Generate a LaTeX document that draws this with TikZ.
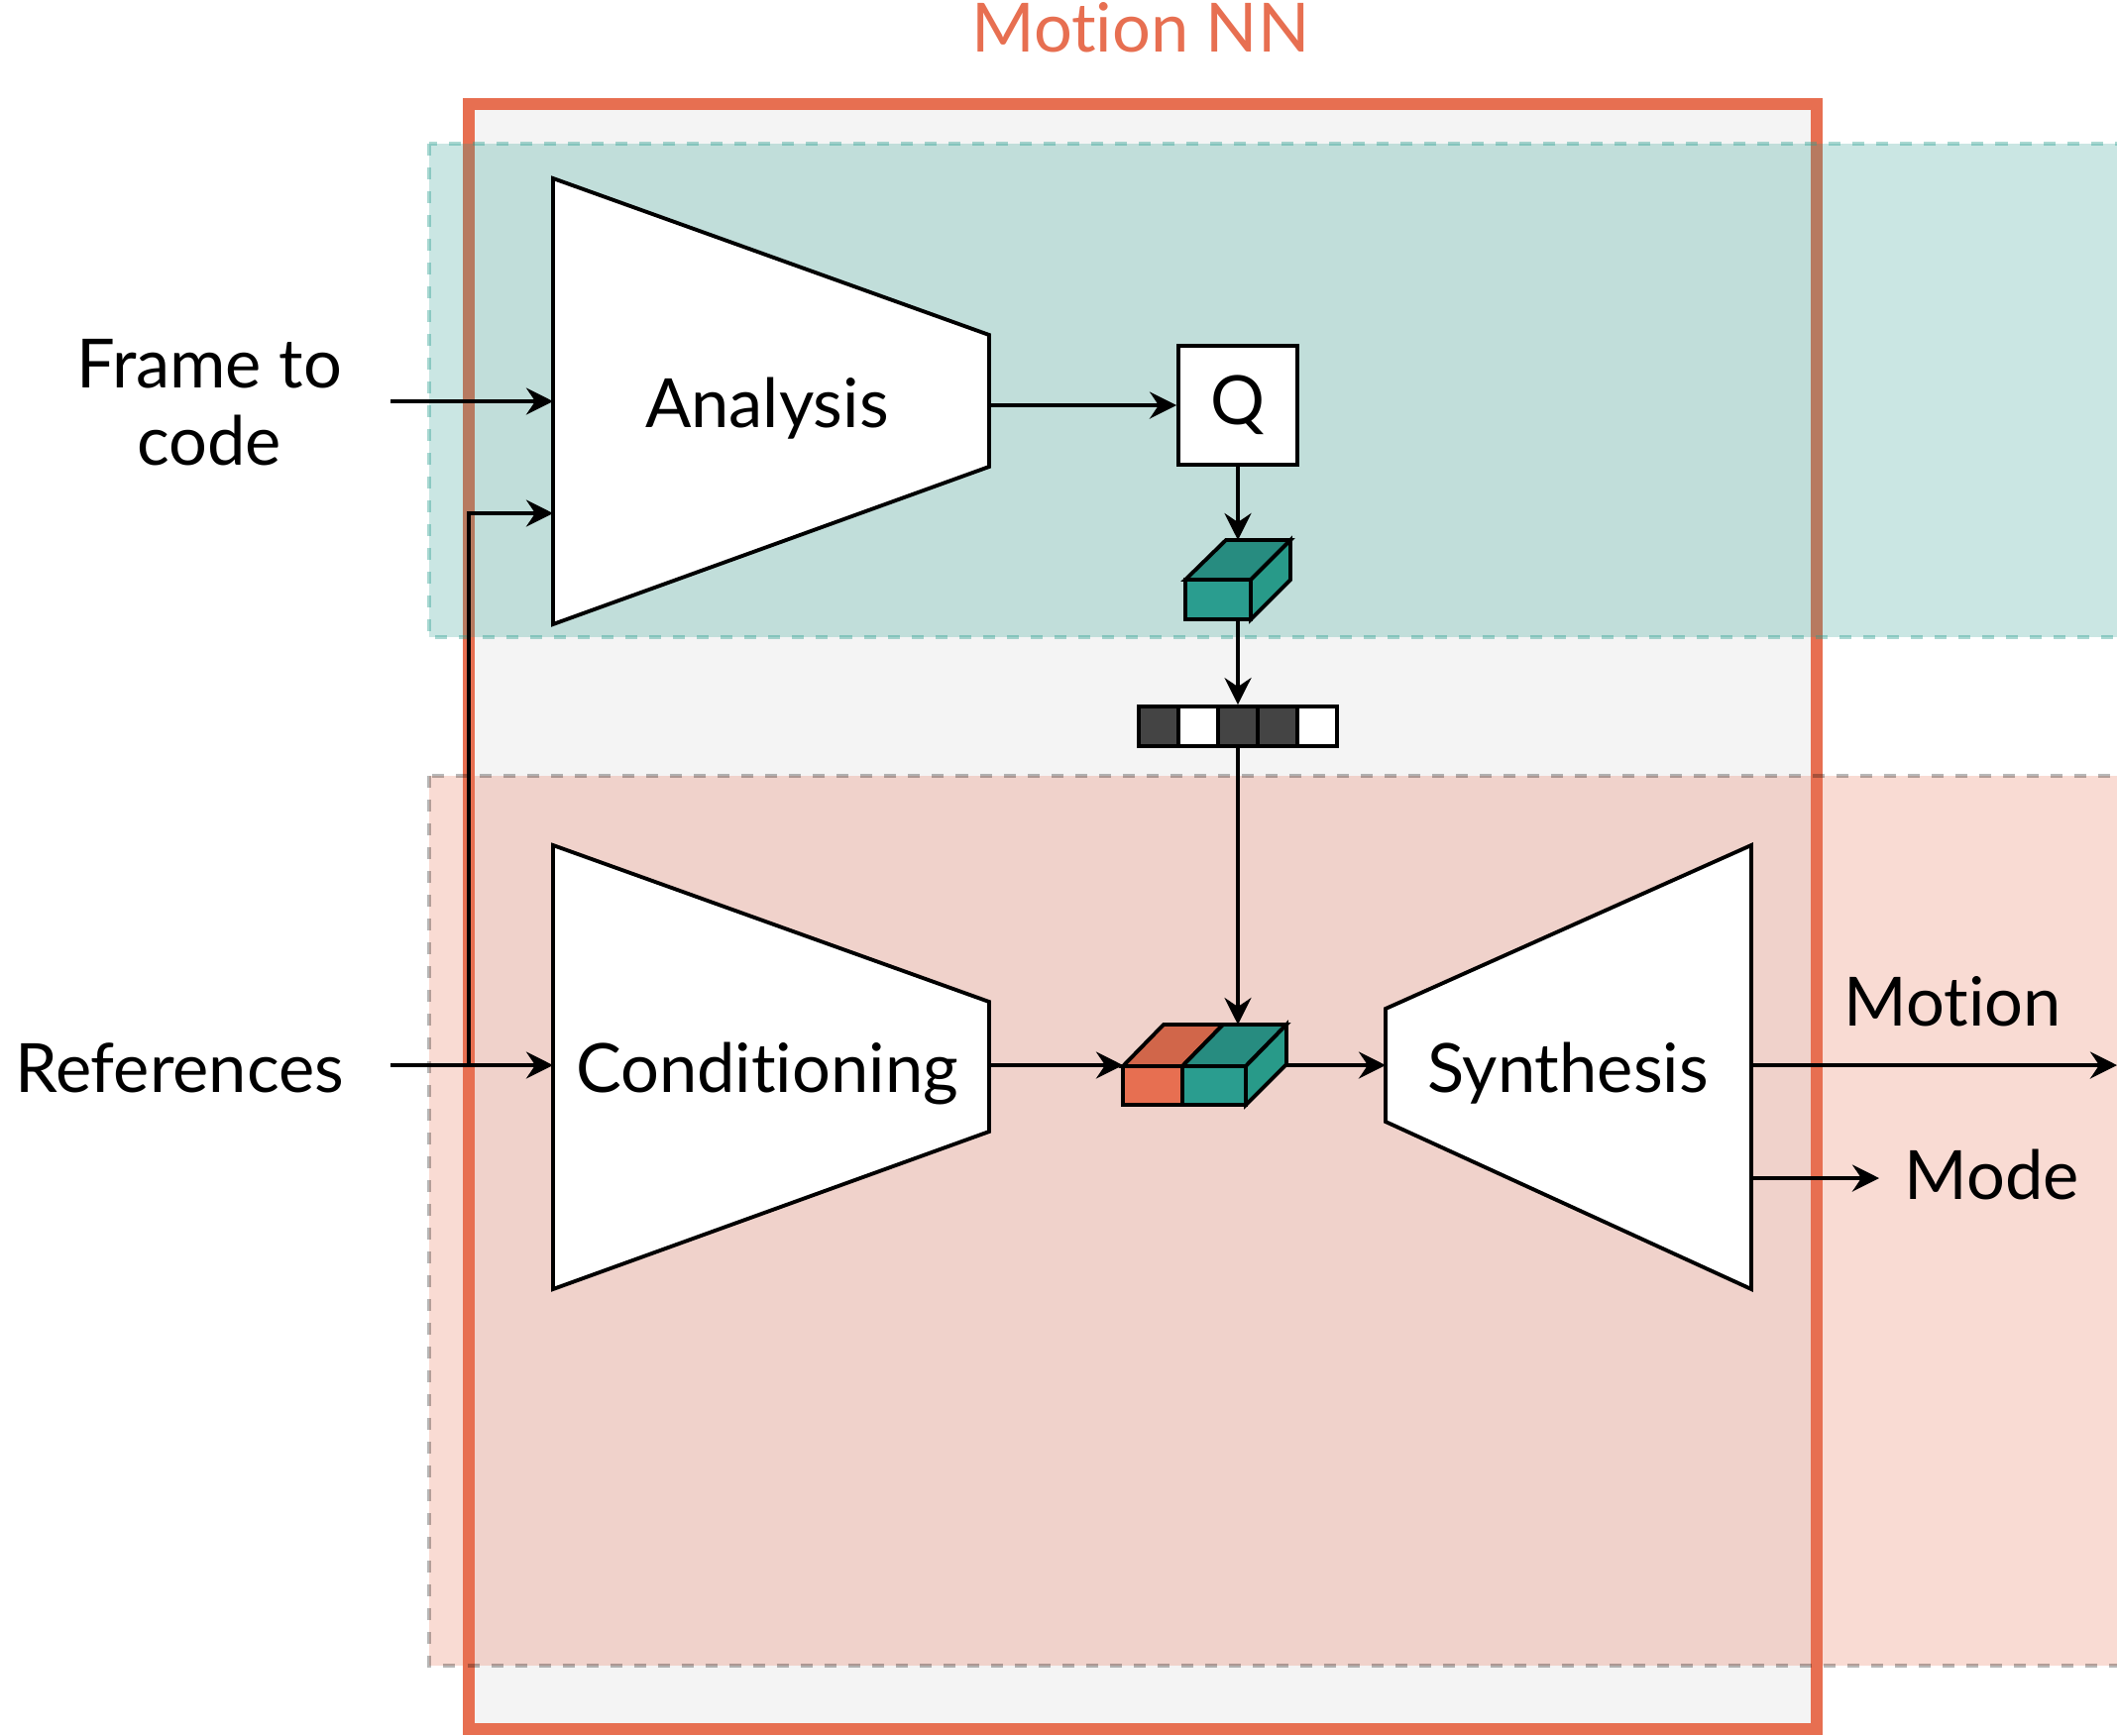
\documentclass[tikz,border=0pt]{standalone}
\usepackage{fontspec}
\setmainfont{Lato}[Ligatures=NoCommon]
\usepackage{tikz}
\usetikzlibrary{arrows.meta}

\definecolor{nnred}{HTML}{E76F51}
\definecolor{nnredtop}{HTML}{D1664A}
\definecolor{nnteal}{HTML}{2A9D8F}
\definecolor{nntealtop}{HTML}{278C80}
\definecolor{nntealside}{HTML}{289A89}
\definecolor{nngray}{HTML}{F4F4F4}
\definecolor{nnbit}{HTML}{444444}

\begin{document}
\begin{tikzpicture}[x=0.01cm, y=-0.01cm, line width=1.1pt,
    conn/.style={-{Stealth[length=0.27cm, width=0.27cm, inset=0.09cm]}},
    txt/.style={font=\fontsize{19.5}{22}\selectfont, inner sep=0pt, anchor=base},
    block/.style={draw=black, fill=white},
    band/.style={line width=0.04cm, dash pattern=on 0.12cm off 0.12cm, fill opacity=0.25},
    bit/.style={draw=black, minimum width=0.4cm, minimum height=0.4cm, inner sep=0pt}]
  \useasboundingbox (0,0) rectangle (2136,1751);

  \draw[fill=nngray, draw=nnred, line width=0.12cm] (473,105) rectangle (1833,1745);
  \node[txt, text=nnred] (title) at (1151,52) {Motion NN};

  \draw[band, fill=nnteal, draw=nnteal, draw opacity=0.4] (433,145) rectangle (2160,643);
  \draw[band, fill=nnred, draw=black, draw opacity=0.28] (433,783) rectangle (2160,1681);

  \draw[block] (558,180) -- (998,338) -- (998,471) -- (558,630) -- cycle;
  \node[txt] (ana) at (774,431) {Analysis};
  \coordinate (ana_in1) at (558,405);
  \coordinate (ana_in2) at (558,518);
  \coordinate (ana_out) at (998,409);

  \draw[block] (558,853) -- (998,1011) -- (998,1142) -- (558,1301) -- cycle;
  \node[txt] (cond) at (774,1102) {Conditioning};
  \coordinate (cond_in) at (558,1075);
  \coordinate (cond_out) at (998,1075);

  \draw[block] (1398,1018) -- (1767,853) -- (1767,1301) -- (1398,1132) -- cycle;
  \node[txt] (syn) at (1582,1102) {Synthesis};
  \coordinate (syn_in) at (1398,1075);
  \coordinate (syn_out1) at (1767,1075);
  \coordinate (syn_out2) at (1767,1189);

  \node[draw, fill=white, minimum size=1.2cm, inner sep=0pt, font=\fontsize{19.5}{22}\selectfont] (q) at (1249,409) {Q};

  \filldraw[fill=nnteal] (1196,585) rectangle (1262,625);
  \filldraw[fill=nntealtop] (1196,585) -- (1237,545) -- (1302,545) -- (1262,585) -- cycle;
  \filldraw[fill=nntealside] (1262,585) -- (1302,545) -- (1302,585) -- (1262,625) -- cycle;
  \coordinate (code_top) at (1249,545);
  \coordinate (code_bot) at (1249,625);

  \foreach \c [count=\i from 0] in {nnbit,white,nnbit,nnbit,white}
    \node[bit, fill=\c] (bit\i) at (1169+40*\i,733) {};

  \filldraw[fill=nnred] (1133,1076) rectangle (1193,1115);
  \filldraw[fill=nnteal] (1193,1076) rectangle (1257,1115);
  \filldraw[fill=nnredtop] (1133,1076) -- (1174,1034) -- (1234,1034) -- (1193,1076) -- cycle;
  \filldraw[fill=nntealtop] (1193,1076) -- (1234,1034) -- (1298,1034) -- (1257,1076) -- cycle;
  \filldraw[fill=nntealside] (1257,1076) -- (1298,1034) -- (1298,1074) -- (1257,1115) -- cycle;
  \coordinate (cat_in) at (1133,1075);
  \coordinate (cat_top) at (1249,1034);
  \coordinate (cat_out) at (1298,1075);

  \node[txt, align=center] (ftc) at (211,469) {Frame to\\code};
  \node[txt, anchor=base east] (refs) at (349,1102) {References};
  \node[txt] (motion) at (1970,1035) {Motion};
  \node[txt] (mode) at (2010,1210) {Mode};
  \coordinate (ftc_src) at (394,405);
  \coordinate (ref_src) at (394,1075);
  \coordinate (ref_split) at (473,1075);
  \coordinate (motion_end) at (2136,1075);
  \coordinate (mode_end) at (1896,1189);

  \draw[conn] (ftc_src) -- (ana_in1);
  \draw[conn] (ref_src) -- (cond_in);
  \draw[conn] (ref_split) |- (ana_in2);
  \draw[conn] (ana_out) -- (q.west);
  \draw[conn] (q.south) -- (code_top);
  \draw[conn] (code_bot) -- (bit2.north);
  \draw[conn] (bit2.south) -- (cat_top);
  \draw[conn] (cond_out) -- (cat_in);
  \draw[conn] (cat_out) -- (syn_in);
  \draw[conn] (syn_out1) -- (motion_end);
  \draw[conn] (syn_out2) -- (mode_end);
\end{tikzpicture}
\end{document}
